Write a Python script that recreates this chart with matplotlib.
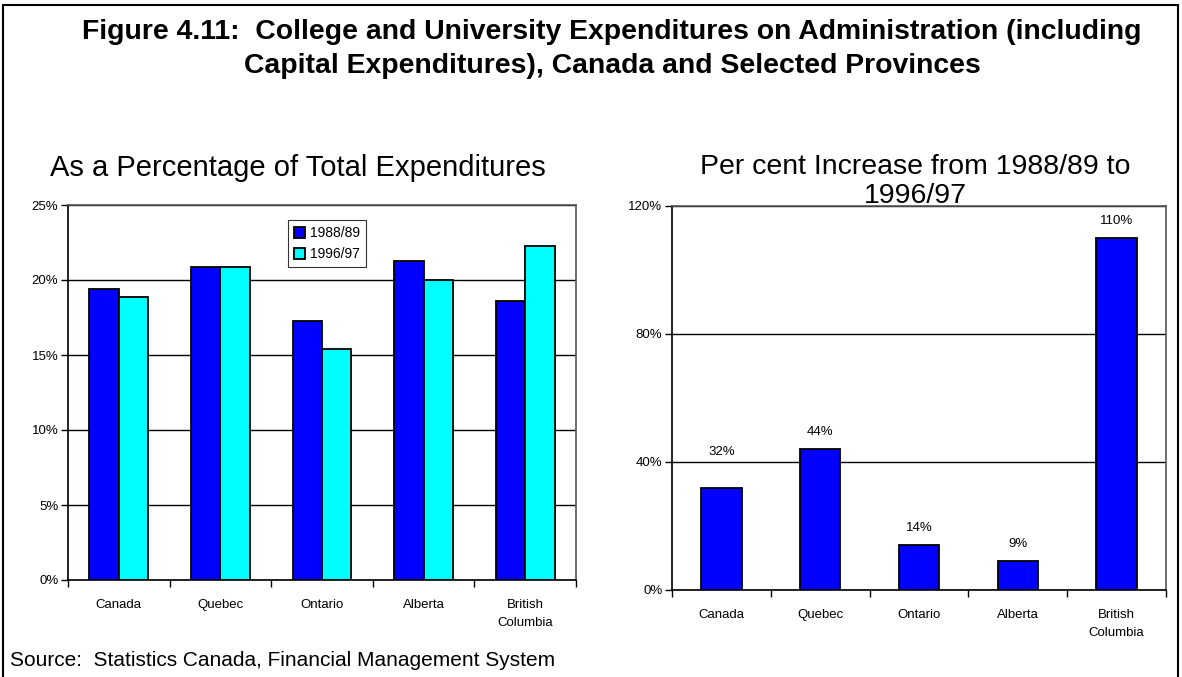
import matplotlib
matplotlib.use("Agg")
import matplotlib.pyplot as plt
import numpy as np
from matplotlib.patches import Rectangle
from matplotlib.ticker import FixedLocator, FuncFormatter

# Data
regions = ["Canada", "Quebec", "Ontario", "Alberta", "British\nColumbia"]
share_1988 = [19.4, 20.9, 17.3, 21.3, 18.6]
share_1996 = [18.9, 20.9, 15.4, 20.0, 22.3]
years = ["1988/89", "1996/97"]
increase = [32, 44, 14, 9, 110]

BLUE = "#0000FF"
CYAN = "#00FFFF"
FRAME = "#555555"

plt.rcParams["font.family"] = ["Liberation Sans", "DejaVu Sans"]

W, H = 1182, 677
fig = plt.figure(figsize=(W / 100, H / 100), dpi=100)


def fx(px):
    return px / W


def fy(py):
    return 1 - py / H


# Outer frame
fig.patches.append(Rectangle((fx(3), fy(700)), fx(1178) - fx(3), fy(5) - fy(700),
                             transform=fig.transFigure, fill=False,
                             edgecolor="black", linewidth=1.5))

fig.text(fx(612), fy(32), "Figure 4.11:  College and University Expenditures on Administration (including",
         ha="center", va="center", fontsize=20.4, fontweight="bold")
fig.text(fx(612), fy(66), "Capital Expenditures), Canada and Selected Provinces",
         ha="center", va="center", fontsize=20.4, fontweight="bold")

fig.text(fx(298), fy(168), "As a Percentage of Total Expenditures",
         ha="center", va="center", fontsize=21)
fig.text(fx(915), fy(167), "Per cent Increase from 1988/89 to",
         ha="center", va="center", fontsize=20.5)
fig.text(fx(915), fy(196), "1996/97",
         ha="center", va="center", fontsize=20.5)

fig.text(fx(10), fy(660), "Source:  Statistics Canada, Financial Management System",
         ha="left", va="center", fontsize=15)


def style_axes(ax, n):
    ax.set_xlim(-0.5, n - 0.5)
    ax.set_xticks(np.arange(n))
    ax.set_xticklabels(regions, fontsize=9.5, linespacing=1.6)
    ax.tick_params(axis="x", which="major", length=0, pad=14)
    ax.xaxis.set_minor_locator(FixedLocator(np.arange(n + 1) - 0.5))
    ax.tick_params(axis="x", which="minor", length=5, direction="out", width=1)
    ax.tick_params(axis="y", length=5, direction="out", width=1, labelsize=9.5, pad=2)
    ax.yaxis.set_major_formatter(FuncFormatter(lambda v, p: f"{v:.0f}%"))
    ax.grid(axis="y", color="black", linewidth=1)
    ax.set_axisbelow(True)
    for s in ("left", "bottom"):
        ax.spines[s].set_color("black")
        ax.spines[s].set_linewidth(1.2)
    for s in ("top", "right"):
        ax.spines[s].set_color(FRAME)
        ax.spines[s].set_linewidth(1.2)


# Left: share of total expenditures
axL = fig.add_axes([fx(68), fy(580), fx(576) - fx(68), fy(205) - fy(580)])
x = np.arange(len(regions))
bw = 0.29
axL.bar(x - bw / 2, share_1988, bw, color=BLUE, edgecolor="black", linewidth=1.3, label=years[0], zorder=3)
axL.bar(x + bw / 2, share_1996, bw, color=CYAN, edgecolor="black", linewidth=1.3, label=years[1], zorder=3)
axL.set_ylim(0, 25)
axL.set_yticks(np.arange(0, 26, 5))
style_axes(axL, len(regions))
leg = axL.legend(loc="upper left", bbox_to_anchor=((288 - 68) / 508, 1 - (220 - 205) / 375),
                 fontsize=10, frameon=True, fancybox=False, edgecolor="black",
                 handlelength=0.8, handleheight=0.8, handletextpad=0.3,
                 borderpad=0.45, labelspacing=0.5, borderaxespad=0)
leg.get_frame().set_linewidth(0.8)

# Right: percent increase
axR = fig.add_axes([fx(672), fy(590), fx(1166) - fx(672), fy(206) - fy(590)])
axR.bar(x, increase, 0.41, color=BLUE, edgecolor="black", linewidth=1.3, zorder=3)
axR.set_ylim(0, 120)
axR.set_yticks([0, 40, 80, 120])
style_axes(axR, len(regions))
label_lift = [21, 8, 8, 8, 8]  # points above each bar top
for xi, v, lift in zip(x, increase, label_lift):
    axR.annotate(f"{v}%", (xi, v), xytext=(0, lift), textcoords="offset points",
                 ha="center", va="bottom", fontsize=9.5)

fig.savefig("out.png", dpi=100)
